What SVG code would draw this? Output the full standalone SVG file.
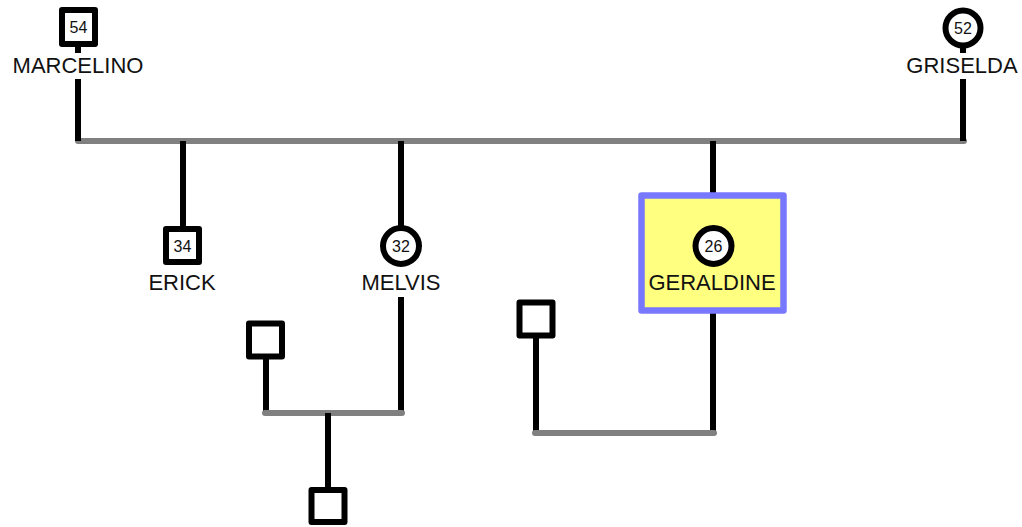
<svg xmlns="http://www.w3.org/2000/svg" width="1022" height="527" viewBox="0 0 1022 527">
<style>
.name{font-family:"Liberation Sans",Arial,sans-serif;font-size:22px;fill:#111;text-anchor:middle}
.age{font-family:"Liberation Sans",Arial,sans-serif;font-size:16px;fill:#111;text-anchor:middle}
.sym{fill:#fff;stroke:#000;stroke-width:6;stroke-linejoin:round}
.bl{stroke:#000;stroke-width:6;fill:none}
.gr{stroke:#808080;stroke-width:6;fill:none;stroke-linecap:round}
</style>
<rect width="1022" height="527" fill="#fff"/>
<g id="connectors">
<line class="gr" x1="78" y1="141" x2="964" y2="141"/>
<line class="bl" x1="78" y1="79" x2="78" y2="141"/>
<line class="bl" x1="963" y1="79" x2="963" y2="141"/>
<line class="bl" x1="183" y1="141" x2="183" y2="228"/>
<line class="bl" x1="401" y1="141" x2="401" y2="226"/>
<line class="bl" x1="713" y1="141" x2="713" y2="193"/>
<line class="bl" x1="401" y1="297" x2="401" y2="413"/>
<line class="bl" x1="266" y1="358" x2="266" y2="413"/>
<line class="gr" x1="265" y1="413" x2="402" y2="413"/>
<line class="bl" x1="328" y1="413" x2="328" y2="488"/>
<line class="bl" x1="713" y1="312" x2="713" y2="433"/>
<line class="bl" x1="536" y1="337" x2="536" y2="433"/>
<line class="gr" x1="535" y1="433" x2="714" y2="433"/>
</g>
<g id="marcelino">
<line class="bl" x1="78" y1="46" x2="78" y2="53"/>
<rect class="sym" x="62" y="10" width="33" height="34"/>
<text class="age" x="78.5" y="33">54</text>
<text class="name" x="78" y="73">MARCELINO</text>
</g>
<g id="griselda">
<line class="bl" x1="963" y1="46" x2="963" y2="53"/>
<circle class="sym" cx="963" cy="28" r="17.5"/>
<text class="age" x="963" y="34">52</text>
<text class="name" x="962" y="73">GRISELDA</text>
</g>
<g id="erick">
<rect class="sym" x="166" y="229" width="33" height="33"/>
<text class="age" x="182.5" y="251.5">34</text>
<text class="name" x="182" y="290">ERICK</text>
</g>
<g id="melvis">
<circle class="sym" cx="401" cy="246" r="18"/>
<text class="age" x="401" y="252">32</text>
<text class="name" x="401" y="290">MELVIS</text>
</g>
<g id="geraldine">
<rect x="641.5" y="195.5" width="142" height="115" fill="#ffff80" stroke="#7878ff" stroke-width="6.5" stroke-linejoin="round"/>
<circle class="sym" cx="713.5" cy="246" r="18"/>
<text class="age" x="713.5" y="252">26</text>
<text class="name" x="712" y="289.5">GERALDINE</text>
</g>
<g id="melvis-spouse">
<rect class="sym" x="249" y="323.5" width="33" height="33"/>
</g>
<g id="melvis-child">
<rect class="sym" x="311.5" y="490" width="33" height="32"/>
</g>
<g id="geraldine-spouse">
<rect class="sym" x="519.5" y="302.5" width="33" height="33"/>
</g>
</svg>
